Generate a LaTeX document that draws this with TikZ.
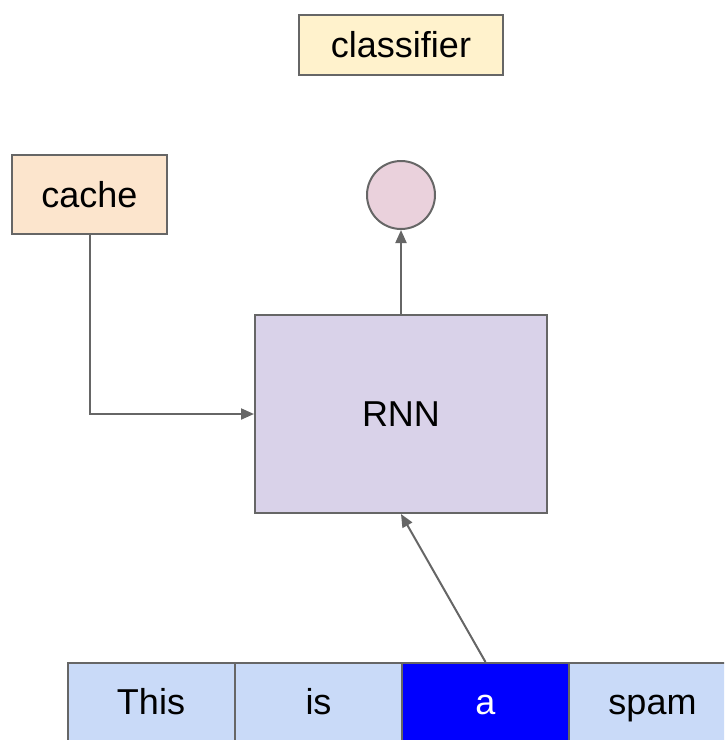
\documentclass[tikz,border=0pt]{standalone}
\usepackage{fontspec}
\setmainfont{Liberation Sans}
\usepackage{tikz}
\usetikzlibrary{arrows.meta,positioning}
\definecolor{edgegray}{HTML}{666666}
\definecolor{clsfill}{HTML}{FFF2CC}
\definecolor{cachefill}{HTML}{FCE5CD}
\definecolor{outfill}{HTML}{EAD1DC}
\definecolor{rnnfill}{HTML}{D9D2E9}
\definecolor{wordfill}{HTML}{C9DAF8}
\tikzset{
  boxA/.style={ draw=edgegray, line width=2pt, inner sep=0pt, font=\fontsize{36}{43}\selectfont }
}
\tikzset{
  circP/.style={ draw=edgegray, line width=2pt, circle, fill=outfill, minimum size=68pt, inner sep=0pt }
}
\tikzset{
  wordB/.style={ boxA, fill=wordfill, minimum width=167pt, minimum height=84pt, text height=26pt, text depth=8pt }
}
\tikzset{
  link/.style={ draw=edgegray, line width=2pt, -{Triangle[width=11pt,length=13pt]} }
}

\begin{document}
\begin{tikzpicture}[x=1pt, y=-1pt]
      \clip (0,0) rectangle (724,740);
      \useasboundingbox (0,0) rectangle (724,740);

      \node[boxA, fill=clsfill, minimum width=204pt, minimum height=60pt] (cls) at (401, 45) {classifier};
      \node[boxA, fill=cachefill, minimum width=155pt, minimum height=79pt] (cache) at (89.5, 194.5) {cache};
      \node[circP] (out) at (401, 195) {};
      \node[boxA, fill=rnnfill, minimum width=292pt, minimum height=198pt] (rnn) at (401, 414) {RNN};

      \node[wordB] (w1) at (151, 705) {This};
      \node[wordB] (w2) at (318.5, 705) {is};
      \node[wordB, fill=blue, text=white] (w3) at (485.5, 705) {a};
      \node[wordB] (w4) at (652.5, 705) {spam};

      \draw[link] (rnn.north) -- (out.south);
      \draw[link] (cache.south) |- (rnn.west);
      \draw[link] (w3.north) -- (rnn.south);
    \end{tikzpicture}
\end{document}
